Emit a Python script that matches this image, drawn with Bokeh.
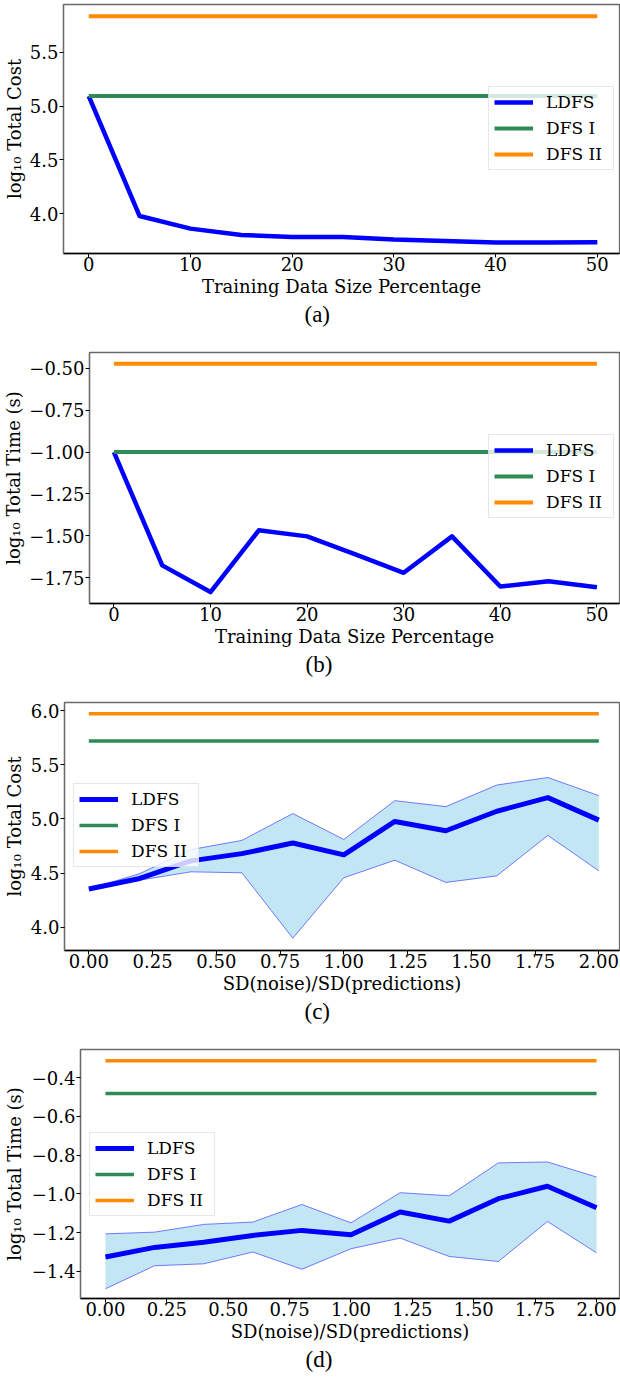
from bokeh.plotting import figure
from bokeh.models import Range1d, FixedTicker, Legend, LegendItem, Title, LinearAxis
from bokeh.embed import file_html
from bokeh.resources import INLINE

# ---------------- data ----------------
train_pct = [0, 5, 10, 15, 20, 25, 30, 35, 40, 45, 50]
cost_a_ldfs = [5.093, 3.979, 3.862, 3.803, 3.784, 3.784, 3.760, 3.747, 3.732, 3.732, 3.735]
cost_a_dfs1 = [5.093] * 11
cost_a_dfs2 = [5.835] * 11

time_b_ldfs = [-1.000, -1.676, -1.835, -1.467, -1.503, -1.610, -1.720, -1.503, -1.802, -1.770, -1.806]
time_b_dfs1 = [-1.000] * 11
time_b_dfs2 = [-0.473] * 11

noise_ratio = [0.0, 0.2, 0.4, 0.6, 0.8, 1.0, 1.2, 1.4, 1.6, 1.8, 2.0]
cost_c_ldfs = [4.352, 4.450, 4.612, 4.679, 4.777, 4.667, 4.976, 4.890, 5.070, 5.196, 4.988]
cost_c_hi = [4.352, 4.495, 4.716, 4.801, 5.049, 4.810, 5.168, 5.113, 5.312, 5.382, 5.214]
cost_c_lo = [4.352, 4.434, 4.511, 4.502, 3.899, 4.456, 4.618, 4.413, 4.474, 4.847, 4.520]
cost_c_dfs1 = [5.719] * 11
cost_c_dfs2 = [5.969] * 11

time_d_ldfs = [-1.327, -1.277, -1.250, -1.215, -1.189, -1.212, -1.094, -1.141, -1.025, -0.961, -1.072]
time_d_hi = [-1.207, -1.198, -1.158, -1.146, -1.055, -1.150, -0.994, -1.010, -0.840, -0.835, -0.913]
time_d_lo = [-1.491, -1.372, -1.362, -1.301, -1.390, -1.284, -1.229, -1.324, -1.350, -1.143, -1.305]
time_d_dfs1 = [-0.481] * 11
time_d_dfs2 = [-0.312] * 11

series_names = ["LDFS", "DFS I", "DFS II"]

xt_pct = [0, 10, 20, 30, 40, 50]
xt_pct_labels = ["0", "10", "20", "30", "40", "50"]
xt_noise = [0.0, 0.25, 0.5, 0.75, 1.0, 1.25, 1.5, 1.75, 2.0]
xt_noise_labels = ["0.00", "0.25", "0.50", "0.75", "1.00", "1.25", "1.50", "1.75", "2.00"]

yt_a = [4.0, 4.5, 5.0, 5.5]
yt_a_labels = ["4.0", "4.5", "5.0", "5.5"]
yt_b = [-1.75, -1.5, -1.25, -1.0, -0.75, -0.5]
yt_b_labels = ["\u22121.75", "\u22121.50", "\u22121.25", "\u22121.00", "\u22120.75", "\u22120.50"]
yt_c = [4.0, 4.5, 5.0, 5.5, 6.0]
yt_c_labels = ["4.0", "4.5", "5.0", "5.5", "6.0"]
yt_d = [-1.4, -1.2, -1.0, -0.8, -0.6, -0.4]
yt_d_labels = ["\u22121.4", "\u22121.2", "\u22121.0", "\u22120.8", "\u22120.6", "\u22120.4"]

xlabel_pct = "Training Data Size Percentage"
xlabel_noise = "SD(noise)/SD(predictions)"
ylabel_cost = "log\u2081\u2080 Total Cost"
ylabel_time = "log\u2081\u2080 Total Time (s)"
captions = ["(a)", "(b)", "(c)", "(d)"]

# ---------------- style ----------------
SERIF = "DejaVu Serif"
CAP_FONT = "Liberation Serif"
BLUE = "#0000ff"
GREEN = "#2e8b57"
ORANGE = "#ff8c00"
BAND = "#87ceeb"
W = 620


def panel(x, ldfs, dfs1, dfs2, lo, hi, xr, yr, xt, xtl, yt, ytl, xlabel, ylabel,
          caption, height, top, left, bottom, ylab_standoff, legend_loc, cap_off,
          lw_main, lw_ref):
    p = figure(width=W, height=height, output_backend="svg", toolbar_location=None,
               x_range=Range1d(*xr), y_range=Range1d(*yr),
               min_border_left=left, min_border_right=1, min_border_top=top,
               min_border_bottom=bottom)
    p.grid.visible = False
    p.outline_line_color = "#6a6a6a"
    p.outline_line_width = 1.3
    p.background_fill_color = "white"
    p.border_fill_color = "white"

    for ax, ticks, labels in ((p.xaxis[0], xt, xtl), (p.yaxis[0], yt, ytl)):
        ax.ticker = FixedTicker(ticks=ticks)
        ax.major_label_overrides = {t: l for t, l in zip(ticks, labels)}
        ax.major_label_text_font = SERIF
        ax.major_label_text_font_size = "18px"
        ax.major_label_text_color = "black"
        ax.major_tick_in = 0
        ax.major_tick_out = 4
        ax.major_tick_line_color = "black"
        ax.major_tick_line_width = 1
        ax.minor_tick_line_color = None
        ax.axis_label_text_font = SERIF
        ax.axis_label_text_font_size = "18px"
        ax.axis_label_text_font_style = "normal"
        ax.axis_label_text_color = "black"
    p.xaxis.major_label_standoff = -1
    p.xaxis.axis_label_standoff = 2
    p.yaxis.major_label_standoff = 1
    p.yaxis.axis_label_standoff = ylab_standoff
    p.xaxis.axis_label = xlabel
    p.yaxis.axis_label = ylabel
    p.xaxis.axis_line_color = "black"
    p.xaxis.axis_line_width = 1.3
    p.yaxis.axis_line_color = "#6a6a6a"
    p.yaxis.axis_line_width = 1.3

    if lo is not None:
        p.varea(x=x, y1=lo, y2=hi, fill_color=BAND, fill_alpha=0.5)
        p.line(x=x, y=lo, line_color=BLUE, line_alpha=0.5, line_width=1)
        p.line(x=x, y=hi, line_color=BLUE, line_alpha=0.5, line_width=1)

    r1 = p.line(x=x, y=ldfs, line_color=BLUE, line_width=lw_main, line_join="round")
    r2 = p.line(x=x, y=dfs1, line_color=GREEN, line_width=lw_ref)
    r3 = p.line(x=x, y=dfs2, line_color=ORANGE, line_width=lw_ref)

    leg = Legend(items=[LegendItem(label=n, renderers=[r]) for n, r in zip(series_names, (r1, r2, r3))],
                 location=legend_loc, margin=0, padding=5, spacing=6,
                 glyph_width=39, glyph_height=20, label_height=20, label_width=62,
                 label_standoff=13,
                 label_text_font=SERIF, label_text_font_size="17px", label_text_color="black",
                 border_line_color="#d0d0d0", border_line_width=1,
                 background_fill_color="white", background_fill_alpha=0.8)
    p.add_layout(leg)

    # invisible spacer between the x axis and the caption
    spacer = LinearAxis(ticker=FixedTicker(ticks=[]), major_tick_out=13, major_tick_in=0,
                        major_label_standoff=0, axis_line_color=None,
                        major_tick_line_color=None, minor_tick_line_color=None)
    p.add_layout(spacer, "below")

    p.add_layout(Title(text=caption, align="left", offset=cap_off, text_font=CAP_FONT,
                       text_font_size="23px", text_font_style="normal", text_color="black",
                       standoff=0), "below")
    return p


pa = panel(train_pct, cost_a_ldfs, cost_a_dfs1, cost_a_dfs2, None, None,
           (-2.483, 52.18), (3.631, 5.943), xt_pct, xt_pct_labels, yt_a, yt_a_labels,
           xlabel_pct, ylabel_cost, captions[0], 350, 4, 62, 97, 2, (425, 83), 241, 4.5, 4)
pb = panel(train_pct, time_b_ldfs, time_b_dfs1, time_b_dfs2, None, None,
           (-2.526, 52.34), (-1.9032, -0.4064), xt_pct, xt_pct_labels, yt_b, yt_b_labels,
           xlabel_pct, ylabel_time, captions[1], 350, 2, 89, 97, 2, (399, 85), 216, 4.5, 4)
pc = panel(noise_ratio, cost_c_ldfs, cost_c_dfs1, cost_c_dfs2, cost_c_lo, cost_c_hi,
           (-0.0953, 2.081), (3.785, 6.0738), xt_noise, xt_noise_labels, yt_c, yt_c_labels,
           xlabel_noise, ylabel_cost, captions[2], 347, 2, 64, 97, 3, (9, 83), 240, 5, 3.5)
pd_ = panel(noise_ratio, time_d_ldfs, time_d_dfs1, time_d_dfs2, time_d_lo, time_d_hi,
            (-0.1016, 2.0935), (-1.5412, -0.2537), xt_noise, xt_noise_labels, yt_d, yt_d_labels,
            xlabel_noise, ylabel_time, captions[3], 330, 2, 79, 79, 4, (9, 82), 225, 5, 3.5)

# separate roots so that Bokeh does not align the four plot frames
open("out.html", "w").write(file_html([pa, pb, pc, pd_], INLINE))
